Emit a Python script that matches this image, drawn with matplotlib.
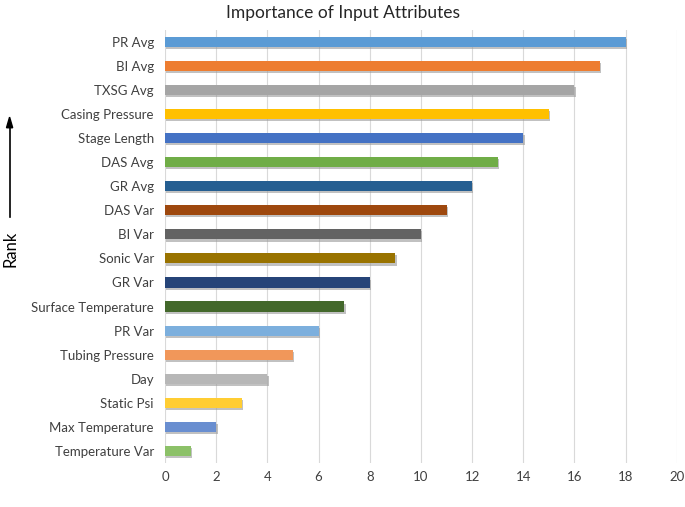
import matplotlib.pyplot as plt
import matplotlib.patheffects as pe

labels = ["PR Avg", "BI Avg", "TXSG Avg", "Casing Pressure", "Stage Length",
          "DAS Avg", "GR Avg", "DAS Var", "BI Var", "Sonic Var", "GR Var",
          "Surface Temperature", "PR Var", "Tubing Pressure", "Day",
          "Static Psi", "Max Temperature", "Temperature Var"]
values = [18, 17, 16, 15, 14, 13, 12, 11, 10, 9, 8, 7, 6, 5, 4, 3, 2, 1]
colors = ["#5B9BD5", "#ED7D31", "#A5A5A5", "#FFC000", "#4472C4", "#70AD47",
          "#255E91", "#9E480E", "#636363", "#997300", "#264478", "#43682B",
          "#7CAFDD", "#F1975A", "#B7B7B7", "#FFCD33", "#698ED0", "#8CC168"]

plt.rcParams['font.family'] = ['Lato', 'DejaVu Sans']

fig = plt.figure(figsize=(6.85, 5.07), dpi=100)
ax = fig.add_axes([0.241, 0.087, 0.747, 0.854])

ypos = list(range(len(labels)))[::-1]
bars = ax.barh(ypos, values, height=0.42, color=colors, zorder=3)
for b in bars:
    b.set_path_effects([pe.SimplePatchShadow(offset=(1, -1.5), shadow_rgbFace='#999999', alpha=0.6),
                        pe.Normal()])

ax.set_xlim(0, 20)
ax.set_ylim(-0.5, len(labels) - 0.5)
ax.set_xticks(range(0, 21, 2))
ax.set_yticks(ypos)
ax.set_yticklabels(labels)
ax.tick_params(axis='both', length=0, labelsize=9.5, colors='#404040')
ax.tick_params(axis='y', pad=8)
ax.tick_params(axis='x', pad=6)
ax.grid(axis='x', color='#D9D9D9', linewidth=0.8, zorder=0)
for s in ax.spines.values():
    s.set_visible(False)

fig.text(0.5, 0.975, "Importance of Input Attributes", ha='center', va='center',
         fontsize=12.5, color='#262626')
fig.text(0.016, 0.51, "Rank", rotation=90, ha='center', va='center', fontsize=12)
fig.add_artist(plt.Line2D([0.014, 0.014], [0.572, 0.75], color='black', lw=1.2))
fig.add_artist(plt.Polygon([[0.0095, 0.748], [0.0185, 0.748], [0.014, 0.769]],
                           closed=True, color='black'))

fig.savefig("out.png", dpi=100)
